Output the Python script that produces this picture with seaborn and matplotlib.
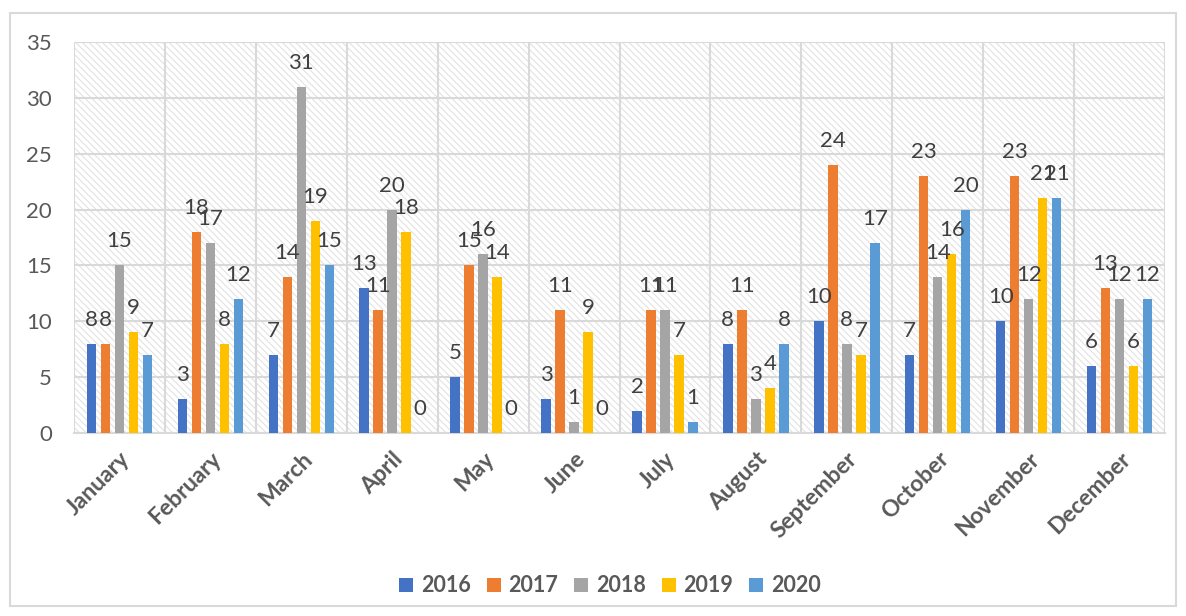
import matplotlib
matplotlib.use("Agg")
import matplotlib.pyplot as plt
from matplotlib.patches import Rectangle, Patch
import seaborn as sns
import pandas as pd
import numpy as np

months = ["January", "February", "March", "April", "May", "June", "July",
          "August", "September", "October", "November", "December"]
years = ["2016", "2017", "2018", "2019", "2020"]
v2016 = [8, 3, 7, 13, 5, 3, 2, 8, 10, 7, 10, 6]
v2017 = [8, 18, 14, 11, 15, 11, 11, 11, 24, 23, 23, 13]
v2018 = [15, 17, 31, 20, 16, 1, 11, 3, 8, 14, 12, 12]
v2019 = [9, 8, 19, 18, 14, 9, 7, 4, 7, 16, 21, 6]
v2020 = [7, 12, 15, 0, 0, 0, 1, 8, 17, 20, 21, 12]
colors = ["#4472C4", "#ED7D31", "#A5A5A5", "#FFC000", "#5B9BD5"]

series = [v2016, v2017, v2018, v2019, v2020]
df = pd.DataFrame({
    "month": np.tile(months, len(years)),
    "year": np.repeat(years, len(months)),
    "value": np.concatenate(series),
})

sns.set_theme(style="white")
plt.rcParams["font.family"] = ["Lato", "DejaVu Sans"]
plt.rcParams["hatch.linewidth"] = 0.8
plt.rcParams["hatch.color"] = "#E2E2E2"

fig = plt.figure(figsize=(11.86, 6.16), dpi=100)
ax = fig.add_axes([74 / 1186, 1 - 433 / 616, (1165 - 74) / 1186, (433 - 42) / 616])

# outer chart frame
fig.patches.append(Rectangle((10 / 1186, 1 - 606 / 616), 1166 / 1186, 593 / 616,
                             transform=fig.transFigure, fill=False,
                             edgecolor="#D9D9D9", linewidth=1.5, zorder=0))

# hatched plot background
ax.add_patch(Rectangle((0, 0), 1, 1, transform=ax.transAxes, facecolor="white",
                       edgecolor="#E2E2E2", hatch="\\\\\\\\\\", linewidth=0, zorder=0))

sns.barplot(data=df, x="month", y="value", hue="year", palette=colors,
            width=0.77, gap=0.32, saturation=1, linewidth=0, ax=ax,
            legend=False, zorder=3)

ax.set_ylim(0, 35)
ax.set_xlim(-0.5, len(months) - 0.5)
ax.set_yticks(range(0, 36, 5))
ax.set_xticks(np.arange(-0.5, len(months), 1.0), minor=True)
ax.grid(True, axis="y", which="major", color="#D9D9D9", linewidth=1.5, zorder=1)
ax.grid(True, axis="x", which="minor", color="#D9D9D9", linewidth=1.5, zorder=1)
ax.grid(False, axis="x", which="major")
ax.set_axisbelow(True)
for s in ["top", "right", "left"]:
    ax.spines[s].set_visible(False)
ax.spines["bottom"].set_color("#D9D9D9")
ax.spines["bottom"].set_linewidth(1.5)
ax.set_xlabel("")
ax.set_ylabel("")

ax.tick_params(axis="y", length=0, pad=16, labelsize=16, labelcolor="#595959")
ax.tick_params(axis="x", which="both", length=0, pad=11)
ax.set_xticks(range(len(months)))
ax.set_xticklabels(months, rotation=45, ha="right", rotation_mode="anchor",
                   fontsize=16.5, fontweight="bold", color="#595959")

# value labels above each bar
for cont, vals in zip(ax.containers, series):
    for bar, v in zip(cont.patches, vals):
        ax.annotate(str(v), (bar.get_x() + bar.get_width() / 2, bar.get_height()),
                    xytext=(0, 13), textcoords="offset points",
                    ha="center", va="baseline", fontsize=16, color="#404040",
                    zorder=5)

handles = [Patch(facecolor=c, edgecolor="none") for c in colors]
fig.legend(handles, years, loc="center", bbox_to_anchor=(610 / 1186, 1 - 586 / 616),
           ncol=5, frameon=False, handlelength=0.65, handleheight=0.65,
           handletextpad=0.35, columnspacing=0.75,
           prop={"weight": "bold", "size": 15.5})
for t in fig.legends[0].get_texts():
    t.set_color("#595959")

fig.savefig("out.png", dpi=100)
